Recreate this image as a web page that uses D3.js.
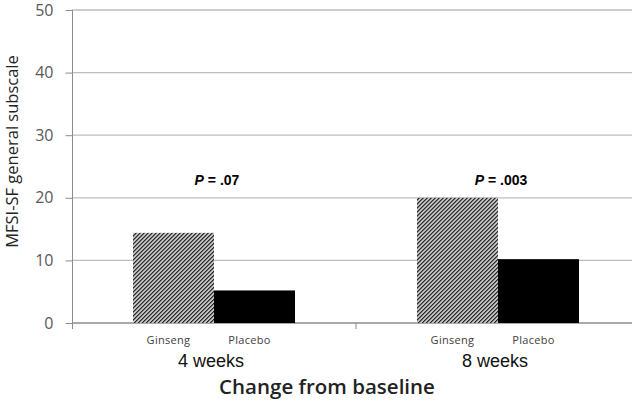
<!DOCTYPE html>
<html><head><meta charset="utf-8">
<script src="https://cdn.jsdelivr.net/npm/d3@7"></script>
<style>html,body{margin:0;padding:0;background:#fff;}svg{display:block;}</style>
</head><body>
<svg id="chart" width="640" height="402"></svg>
<script>
const groups = ["4 weeks", "8 weeks"];
const series = ["Ginseng", "Placebo"];
const ginseng = [14.4, 20.0];
const placebo = [5.2, 10.2];
const pValues = [".07", ".003"];
const yTicks = [0, 10, 20, 30, 40, 50];

const svg = d3.select("#chart");
const x0 = d3.scaleBand().domain(groups).range([72, 640]).paddingInner(0).paddingOuter(0);
const x1 = d3.scaleBand().domain(series).range([0, x0.bandwidth()]).paddingInner(0).paddingOuter(0.753);
const y = d3.scaleLinear().domain([0, 50]).range([323, 10]);

const defs = svg.append("defs");
const pat = defs.append("pattern").attr("id", "hatch").attr("patternUnits", "userSpaceOnUse")
  .attr("width", 2.83).attr("height", 2.83).attr("patternTransform", "rotate(45)");
pat.append("rect").attr("width", 2.83).attr("height", 2.83).attr("fill", "#fff");
pat.append("rect").attr("width", 1.5).attr("height", 2.83).attr("fill", "#222");

// gridlines
svg.append("g").selectAll("line").data(yTicks.filter(d => d > 0)).join("line")
  .attr("x1", 72).attr("x2", 632).attr("y1", d => y(d)).attr("y2", d => y(d))
  .attr("stroke", "#bdbdbd").attr("stroke-width", 1.3);

// y axis
const yAxis = d3.axisLeft(y).tickValues(yTicks).tickSize(7).tickPadding(12);
const gy = svg.append("g").attr("transform", "translate(72.5,0)").call(yAxis);
gy.attr("font-size", null).attr("font-family", null);
gy.select(".domain").attr("stroke", "#8c8c8c").attr("d", "M0," + y(50) + "V329");
gy.selectAll(".tick line").attr("stroke", "#8c8c8c");
gy.selectAll(".tick text").style("font-family", "'Open Sans', sans-serif").style("font-size", "16px")
  .attr("fill", "#595959");

// x baseline
svg.append("line").attr("x1", 72).attr("x2", 632).attr("y1", y(0)).attr("y2", y(0))
  .attr("stroke", "#8c8c8c").attr("stroke-width", 1.3);
svg.append("line").attr("x1", x0(groups[1])).attr("x2", x0(groups[1]))
  .attr("y1", y(0)).attr("y2", y(0) + 6).attr("stroke", "#8c8c8c");

const rows = groups.map((g, i) => ({ group: g, vals: [ginseng[i], placebo[i]], p: pValues[i] }));

const gg = svg.append("g").selectAll("g").data(rows).join("g")
  .attr("transform", d => `translate(${x0(d.group)},0)`);

gg.selectAll("rect").data(d => series.map((s, j) => ({ s, v: d.vals[j] }))).join("rect")
  .attr("x", d => x1(d.s)).attr("width", x1.bandwidth())
  .attr("y", d => y(d.v)).attr("height", d => y(0) - y(d.v))
  .attr("fill", d => d.s === "Ginseng" ? "url(#hatch)" : "#000");

gg.selectAll("text.sl").data(series).join("text").attr("class", "sl")
  .attr("x", s => x1(s) + x1.bandwidth() / 2 - 5).attr("y", 344)
  .attr("text-anchor", "middle").attr("font-family", "'Open Sans', sans-serif")
  .attr("font-size", 11).attr("letter-spacing", 0.3).attr("fill", "#404040").text(s => s);

gg.append("text").attr("x", x0.bandwidth() / 2 - 3).attr("y", 367).attr("text-anchor", "middle")
  .attr("font-family", "'Liberation Sans', Arial, sans-serif").attr("font-size", 18).attr("fill", "#111")
  .text(d => d.group);

const pt = gg.append("text").attr("x", x0.bandwidth() / 2 + 3).attr("y", 185).attr("text-anchor", "middle")
  .attr("font-family", "'Liberation Sans', Arial, sans-serif").attr("font-size", 14).attr("font-weight", "bold")
  .attr("fill", "#000");
pt.append("tspan").attr("font-style", "italic").text("P");
pt.append("tspan").text(d => " = " + d.p);

svg.append("text").attr("x", 327).attr("y", 394).attr("text-anchor", "middle")
  .attr("font-family", "'Open Sans', sans-serif").attr("font-size", 20.5).attr("font-weight", 600)
  .attr("fill", "#222").text("Change from baseline");

svg.append("text").attr("transform", "translate(18,151.5) rotate(-90)").attr("text-anchor", "middle")
  .attr("font-family", "'Open Sans', sans-serif").attr("font-size", 16.5).attr("fill", "#222")
  .text("MFSI-SF general subscale");
</script>
</body></html>
